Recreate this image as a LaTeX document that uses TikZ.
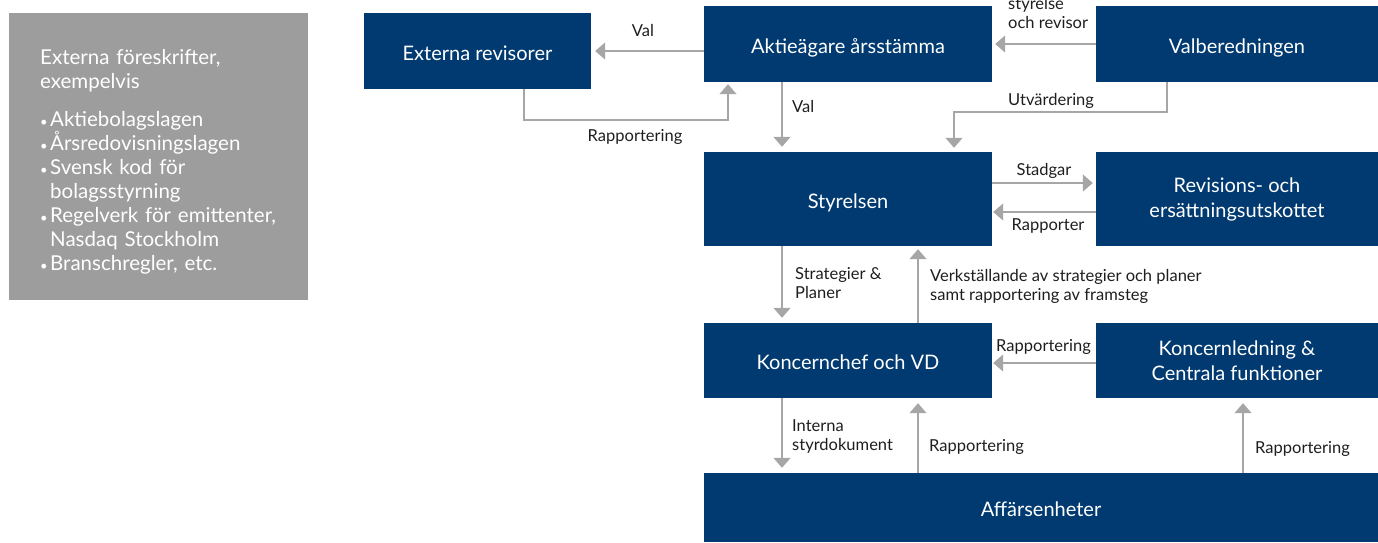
\documentclass[tikz,border=0pt]{standalone}
\usepackage{fontspec}
\setmainfont{Lato}
\usetikzlibrary{arrows.meta,calc}
\definecolor{navy}{RGB}{0,58,112}
\definecolor{boxgray}{RGB}{157,157,157}
\definecolor{arrgray}{RGB}{166,166,166}
\definecolor{lblcol}{RGB}{30,30,30}
\newcommand{\gbul}{\makebox[10pt][l]{\raisebox{0.5pt}{\fontsize{13}{13}\selectfont •}}}
\begin{document}
\begin{tikzpicture}[x=1pt,y=-1pt,
  blk/.style={fill=navy,text=white,draw=none,inner sep=0pt,align=center,font=\fontsize{20}{25}\selectfont},
  one/.style={text height=18pt,text depth=0pt},
  conn/.style={draw=arrgray,line width=1.5pt,-{Triangle[length=10pt,width=17pt]},shorten >=3pt},
  lab/.style={text=lblcol,inner sep=0pt,font=\fontsize{16.5}{19.5}\selectfont},
]
\useasboundingbox (0,0) rectangle (1378,542);

% external regulations box
\node[fill=boxgray,text=white,inner xsep=31pt,inner ysep=0pt,text width=237pt,minimum height=287pt,align=left,anchor=north west,font=\fontsize{20.5}{24}\selectfont] (regs) at (9,13)
{\rule{0pt}{26pt}Externa föreskrifter,\\exempelvis\\[14pt]\gbul Aktiebolagslagen\\\gbul Årsredovisningslagen\\\gbul Svensk kod för\\\hspace*{10pt}bolagsstyrning\\\gbul Regelverk för emittenter,\\\hspace*{10pt}Nasdaq Stockholm\\\gbul Branschregler, etc.};

% blocks
\node[blk,one,minimum width=227pt,minimum height=76pt] (ext) at (477.5,51) {Externa revisorer};
\node[blk,one,minimum width=288pt,minimum height=76pt] (agm) at (848,44) {Aktieägare årsstämma};
\node[blk,one,minimum width=282pt,minimum height=76pt] (val) at (1237,44) {Valberedningen};
\node[blk,one,minimum width=288pt,minimum height=94pt] (sty) at (848,199) {Styrelsen};
\node[blk,minimum width=282pt,minimum height=94pt] (rev) at (1237,199) {Revisions- och\\ersättningsutskottet};
\node[blk,one,minimum width=288pt,minimum height=75pt] (kc) at (848,360.5) {Koncernchef och VD};
\node[blk,minimum width=282pt,minimum height=75pt] (kl) at (1237,360.5) {Koncernledning \&\\Centrala funktioner};
\node[blk,one,minimum width=674pt,minimum height=69pt] (aff) at (1041,507.5) {Affärsenheter};

% connectors
\draw[conn,shorten >=4pt] (agm.west |- ext.east) -- (ext.east);
\coordinate (r1) at ($(ext.south)+(46.5,0)$);
\coordinate (r2) at ($(agm.south)+(-120,0)$);
\draw[conn,shorten >=2pt] (r1) -- (r1 |- 0,120) -- (r2 |- 0,120) -- (r2);
\coordinate (a1) at ($(agm.south)+(-66,0)$);
\draw[conn,shorten >=5pt] (a1) -- (a1 |- sty.north);
\draw[conn] (val.west) -- (agm.east);
\coordinate (v1) at ($(val.south)+(-70,0)$);
\coordinate (v2) at ($(sty.north)+(106,0)$);
\draw[conn,shorten >=4pt] (v1) -- (v1 |- 0,112) -- (v2 |- 0,112) -- (v2);
\draw[conn] ($(sty.east)+(0,-16)$) -- ($(rev.west)+(0,-16)$);
\draw[conn,shorten >=1pt] ($(rev.west)+(0,13)$) -- ($(sty.east)+(0,13)$);
\coordinate (s1) at ($(sty.south)+(-66,0)$);
\draw[conn,shorten >=5pt] (s1) -- (s1 |- kc.north);
\coordinate (s2) at ($(sty.south)+(70,0)$);
\draw[conn] (s2 |- kc.north) -- (s2);
\draw[conn,shorten >=1pt] ($(kl.west)+(0,2.5)$) -- ($(kc.east)+(0,2.5)$);
\coordinate (k1) at ($(kc.south)+(-66,0)$);
\draw[conn,shorten >=5pt] (k1) -- (k1 |- aff.north);
\coordinate (k2) at ($(kc.south)+(70,0)$);
\draw[conn,shorten >=5pt] (k2 |- aff.north) -- (k2);
\coordinate (k3) at ($(kl.south)+(6,0)$);
\draw[conn,shorten >=5pt] (k3 |- aff.north) -- (k3);

% labels
\node[lab,anchor=base] (lval1) at (643,36) {Val};
\node[lab,anchor=base] (lrap1) at (635,141) {Rapportering};
\node[lab,anchor=base west] (lval2) at (792,112) {Val};
\node[lab,anchor=south west,align=left,text depth=0pt] (lsty) at (1008,29) {styrelse\\och revisor};
\node[lab,anchor=base west] (lutv) at (1008,105) {Utvärdering};
\node[lab,anchor=base] (lstad) at (1044,175) {Stadgar};
\node[lab,anchor=base] (lrapp) at (1048,230) {Rapporter};
\node[lab,anchor=south west,align=left,text depth=0pt] (lstrat) at (795,299) {Strategier \&\\Planer};
\node[lab,anchor=south west,align=left,text depth=0pt] (lverk) at (930,301) {Verkställande av strategier och planer\\samt rapportering av framsteg};
\node[lab,anchor=base] (lrap4) at (1043.5,351) {Rapportering};
\node[lab,anchor=south west,align=left,text depth=0pt] (lint) at (792,451) {Interna\\styrdokument};
\node[lab,anchor=base west] (lrap2) at (929,451) {Rapportering};
\node[lab,anchor=base west] (lrap3) at (1255,453) {Rapportering};
\end{tikzpicture}
\end{document}
